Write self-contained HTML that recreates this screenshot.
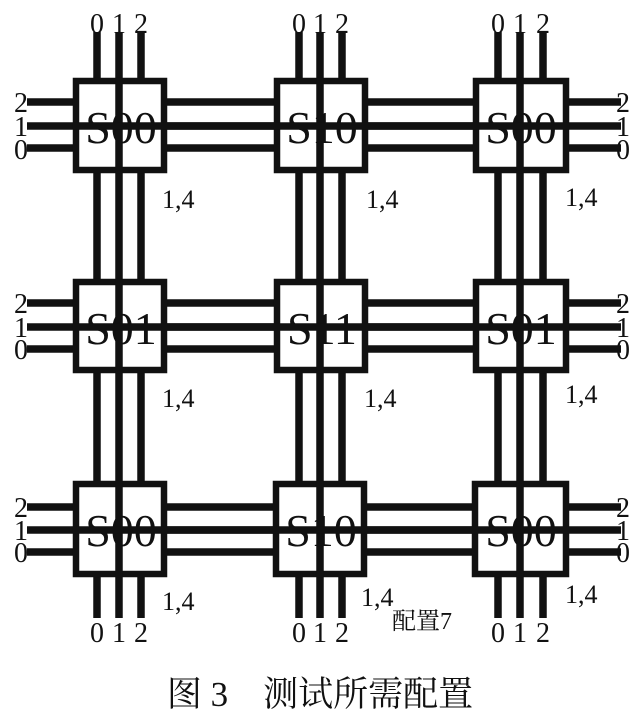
<!DOCTYPE html>
<html><head><meta charset="utf-8"><style>
html,body{margin:0;padding:0;background:#fff;}
svg{display:block;}
text{font-family:"Liberation Serif","Noto Serif CJK SC",serif;fill:#111;}
</style></head><body>
<svg width="644" height="727" viewBox="0 0 644 727" xmlns="http://www.w3.org/2000/svg">
<g stroke="#111" stroke-width="7.5">
<line x1="97" y1="32" x2="97" y2="618"/><line x1="119" y1="32" x2="119" y2="618"/><line x1="141" y1="32" x2="141" y2="618"/>
<line x1="299" y1="32" x2="299" y2="618"/><line x1="320" y1="32" x2="320" y2="618"/><line x1="342" y1="32" x2="342" y2="618"/>
<line x1="498" y1="32" x2="498" y2="618"/><line x1="520" y1="32" x2="520" y2="618"/><line x1="543" y1="32" x2="543" y2="618"/>
<line x1="27" y1="102" x2="621" y2="102"/><line x1="27" y1="126" x2="621" y2="126"/><line x1="27" y1="148" x2="621" y2="148"/>
<line x1="27" y1="303" x2="621" y2="303"/><line x1="27" y1="327" x2="621" y2="327"/><line x1="27" y1="349" x2="621" y2="349"/>
<line x1="27" y1="507" x2="621" y2="507"/><line x1="27" y1="530" x2="621" y2="530"/><line x1="27" y1="552" x2="621" y2="552"/>
</g>
<g fill="#fff" stroke="#111" stroke-width="6.5">
<rect x="76" y="81" width="88" height="89"/><rect x="277" y="81" width="88" height="89"/><rect x="476" y="81" width="90" height="89"/>
<rect x="76" y="282" width="88" height="88"/><rect x="277" y="282" width="88" height="88"/><rect x="476" y="282" width="90" height="88"/>
<rect x="76" y="484" width="88" height="90"/><rect x="276" y="484" width="88" height="90"/><rect x="475" y="484" width="91" height="90"/>
</g>
<g font-size="46" text-anchor="middle">
<text x="121" y="143">S00</text><text x="322" y="143">S10</text><text x="521" y="143">S00</text>
<text x="121" y="344">S01</text><text x="322" y="344">S11</text><text x="521" y="344">S01</text>
<text x="121" y="546">S00</text><text x="321" y="546">S10</text><text x="521" y="546">S00</text>
</g>
<g stroke="#111" stroke-width="7.5">
<line x1="119" y1="78" x2="119" y2="173"/><line x1="320" y1="78" x2="320" y2="173"/><line x1="520" y1="78" x2="520" y2="173"/>
<line x1="119" y1="279" x2="119" y2="373"/><line x1="320" y1="279" x2="320" y2="373"/><line x1="520" y1="279" x2="520" y2="373"/>
<line x1="119" y1="481" x2="119" y2="577"/><line x1="320" y1="481" x2="320" y2="577"/><line x1="520" y1="481" x2="520" y2="577"/>
<line x1="73" y1="126" x2="569" y2="126"/><line x1="73" y1="327" x2="569" y2="327"/><line x1="73" y1="530" x2="569" y2="530"/>
</g>
<g font-size="28" text-anchor="middle">
<text x="97" y="33">0</text><text x="119" y="33">1</text><text x="141" y="33">2</text>
<text x="299" y="33">0</text><text x="320" y="33">1</text><text x="342" y="33">2</text>
<text x="498" y="33">0</text><text x="520" y="33">1</text><text x="543" y="33">2</text>
<text x="97" y="642">0</text><text x="119" y="642">1</text><text x="141" y="642">2</text>
<text x="299" y="642">0</text><text x="320" y="642">1</text><text x="342" y="642">2</text>
<text x="498" y="642">0</text><text x="520" y="642">1</text><text x="543" y="642">2</text>
<text x="21" y="112">2</text><text x="21" y="136">1</text><text x="21" y="159">0</text>
<text x="21" y="313">2</text><text x="21" y="337">1</text><text x="21" y="359">0</text>
<text x="21" y="517">2</text><text x="21" y="540">1</text><text x="21" y="562">0</text>
<text x="623" y="112">2</text><text x="623" y="136">1</text><text x="623" y="159">0</text>
<text x="623" y="313">2</text><text x="623" y="337">1</text><text x="623" y="359">0</text>
<text x="623" y="517">2</text><text x="623" y="540">1</text><text x="623" y="562">0</text>
</g>
<g font-size="26">
<text x="162" y="208">1,4</text><text x="366" y="208">1,4</text><text x="565" y="206">1,4</text>
<text x="162" y="407">1,4</text><text x="364" y="407">1,4</text><text x="565" y="403">1,4</text>
<text x="162" y="610">1,4</text><text x="361" y="606">1,4</text><text x="565" y="603">1,4</text>
<text x="392" y="629" font-size="24">配置7</text>
</g>
<text x="320" y="706" font-size="35" text-anchor="middle">图 3　测试所需配置</text>
</svg>
</body></html>
